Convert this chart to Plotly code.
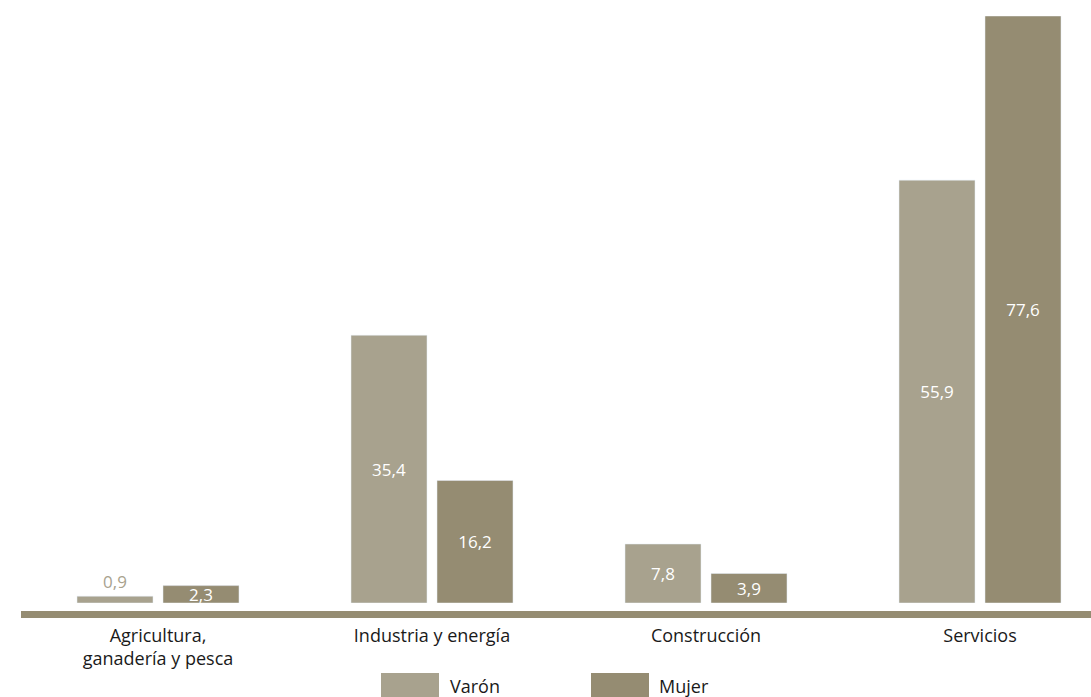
import plotly.graph_objects as go

categories = ["Agricultura,<br>ganadería y pesca", "Industria y energía", "Construcción", "Servicios"]
varon = [0.9, 35.4, 7.8, 55.9]
mujer = [2.3, 16.2, 3.9, 77.6]
series_names = ["Varón", "Mujer"]

C_VARON = "#a8a28e"
C_MUJER = "#958c72"
FONT = "Open Sans"
TXT = "#1a1a1a"

W, H = 1091, 697
L, R, T, B = 21, 0, 16, 94
PW, PH = W - L - R, H - T - B


def px_x(p):
    return (p - L) / PW


def px_y(p):
    return (H - B - p) / PH


fig = go.Figure()
fig.add_bar(
    x=categories, y=varon, name=series_names[0], marker_color=C_VARON,
    texttemplate="%{y:.1f}",
    textposition=["outside", "inside", "inside", "inside"],
    insidetextanchor="middle",
    textfont=dict(color=[C_VARON, "white", "white", "white"], size=17, family=FONT),
    cliponaxis=False,
)
fig.add_bar(
    x=categories, y=mujer, name=series_names[1], marker_color=C_MUJER,
    texttemplate="%{y:.1f}",
    textposition="inside",
    insidetextanchor="middle",
    textfont=dict(color="white", size=17, family=FONT),
    cliponaxis=False,
)

# baseline strip under the bars
shapes = [dict(type="rect", xref="paper", yref="paper", x0=0, x1=1,
               y0=px_y(618), y1=px_y(611), fillcolor=C_MUJER, line_width=0, layer="above")]

# custom legend
annotations = []
for (x0, x1, tx), name, col in zip([(381, 439, 448), (591, 649, 657)], series_names, [C_VARON, C_MUJER]):
    shapes.append(dict(type="rect", xref="paper", yref="paper",
                       x0=px_x(x0), x1=px_x(x1), y0=px_y(697), y1=px_y(673),
                       fillcolor=col, line_width=0))
    annotations.append(dict(xref="paper", yref="paper", x=px_x(tx), y=px_y(686),
                            xanchor="left", yanchor="middle", text=name, showarrow=False,
                            font=dict(family=FONT, size=18, color=TXT)))

fig.update_layout(
    width=W, height=H,
    margin=dict(l=L, r=R, t=T, b=B, pad=0),
    paper_bgcolor="white", plot_bgcolor="white",
    barmode="group", bargap=0.3723, bargroupgap=0.1163,
    separators=",.",
    showlegend=False,
    uniformtext=dict(minsize=17, mode="show"),
    font=dict(family=FONT, size=18, color=TXT),
    xaxis=dict(range=[-0.5, -0.5 + PW / 274], showgrid=False, zeroline=False, showline=False,
               ticks="", tickfont=dict(size=18, color=TXT), ticklabelstandoff=20),
    yaxis=dict(range=[0, 77.6], visible=False, showgrid=False, zeroline=False),
    shapes=shapes,
    annotations=annotations,
)

fig.write_html("out.html")
